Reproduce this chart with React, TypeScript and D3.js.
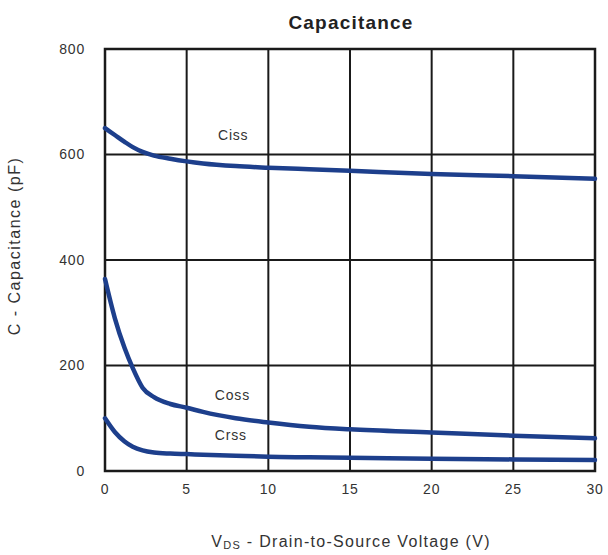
import React from "react";
import * as d3 from "d3";

const xTicks = [0, 5, 10, 15, 20, 25, 30];
const yTicks = [0, 200, 400, 600, 800];

const vds = [0, 0.6, 1.2, 1.7, 2.3, 3, 4, 5, 6, 8, 10, 12.5, 15, 20, 25, 30];
const ciss = [650, 637, 624, 614, 605, 598, 592, 587, 583, 578, 575, 572, 569, 563, 559, 554];
const coss = [364, 290, 233, 195, 158, 140, 127, 120, 112, 100, 92, 84, 79, 73, 67, 62];
const crss = [100, 74, 56, 46, 39, 35, 33, 32, 31, 29, 27, 26, 25, 23, 22, 21];

const labels = [
  { name: "Ciss", x: 7.85, y: 635 },
  { name: "Coss", x: 7.8, y: 142 },
  { name: "Crss", x: 7.7, y: 65 },
];

export default function App() {
  const W = 608, H = 555;
  const left = 105, right = 595, top = 49, bottom = 471;
  const x = d3.scaleLinear().domain([0, 30]).range([left, right]);
  const y = d3.scaleLinear().domain([0, 800]).range([bottom, top]);
  const line = d3
    .line<number>()
    .x((_, i) => x(vds[i]))
    .y((d) => y(d))
    .curve(d3.curveMonotoneX);
  const series = [ciss, coss, crss];
  const font = "Arial, 'Liberation Sans', sans-serif";
  return (
    <svg width={W} height={H} style={{ position: "absolute", left: 0, top: 0, background: "#fff" }} fontFamily={font}>
      <rect x={0} y={0} width={W} height={H} fill="#fff" />
      {xTicks.map((t) => (
        <line key={"gx" + t} x1={x(t)} x2={x(t)} y1={top} y2={bottom} stroke="#1a1a1a" strokeWidth={2} />
      ))}
      {yTicks.map((t) => (
        <line key={"gy" + t} x1={left} x2={right} y1={y(t)} y2={y(t)} stroke="#1a1a1a" strokeWidth={2} />
      ))}
      <rect x={left} y={top} width={right - left} height={bottom - top} fill="none" stroke="#1a1a1a" strokeWidth={2.5} />
      {series.map((s, i) => (
        <path key={i} d={line(s) || ""} fill="none" stroke="#1d3f8c" strokeWidth={4.5} strokeLinecap="round" />
      ))}
      {labels.map((l) => (
        <text key={l.name} x={x(l.x)} y={y(l.y)} fontSize={14} letterSpacing={0.8} fill="#333" textAnchor="middle" dominantBaseline="middle">
          {l.name}
        </text>
      ))}
      {xTicks.map((t) => (
        <text key={"tx" + t} x={x(t)} y={490} fontSize={14} letterSpacing={0.8} fill="#333" textAnchor="middle" dominantBaseline="middle">
          {t}
        </text>
      ))}
      {yTicks.map((t) => (
        <text key={"ty" + t} x={85} y={y(t) + 1} fontSize={14} letterSpacing={0.8} fill="#333" textAnchor="end" dominantBaseline="middle">
          {t}
        </text>
      ))}
      <text x={351} y={24} fontSize={19} letterSpacing={1.2} fontWeight="bold" fill="#222" textAnchor="middle" dominantBaseline="middle">
        Capacitance
      </text>
      <text
        transform={`translate(16, 246) rotate(-90)`}
        fontSize={16}
        letterSpacing={1.5}
        fill="#333"
        textAnchor="middle"
        dominantBaseline="middle"
      >
        C - Capacitance (pF)
      </text>
      <text x={351} y={543} fontSize={16} letterSpacing={1.3} fill="#333" textAnchor="middle" dominantBaseline="middle">
        V<tspan fontSize={11} dy={3}>DS</tspan>
        <tspan dy={-3}> - Drain-to-Source Voltage (V)</tspan>
      </text>
    </svg>
  );
}
